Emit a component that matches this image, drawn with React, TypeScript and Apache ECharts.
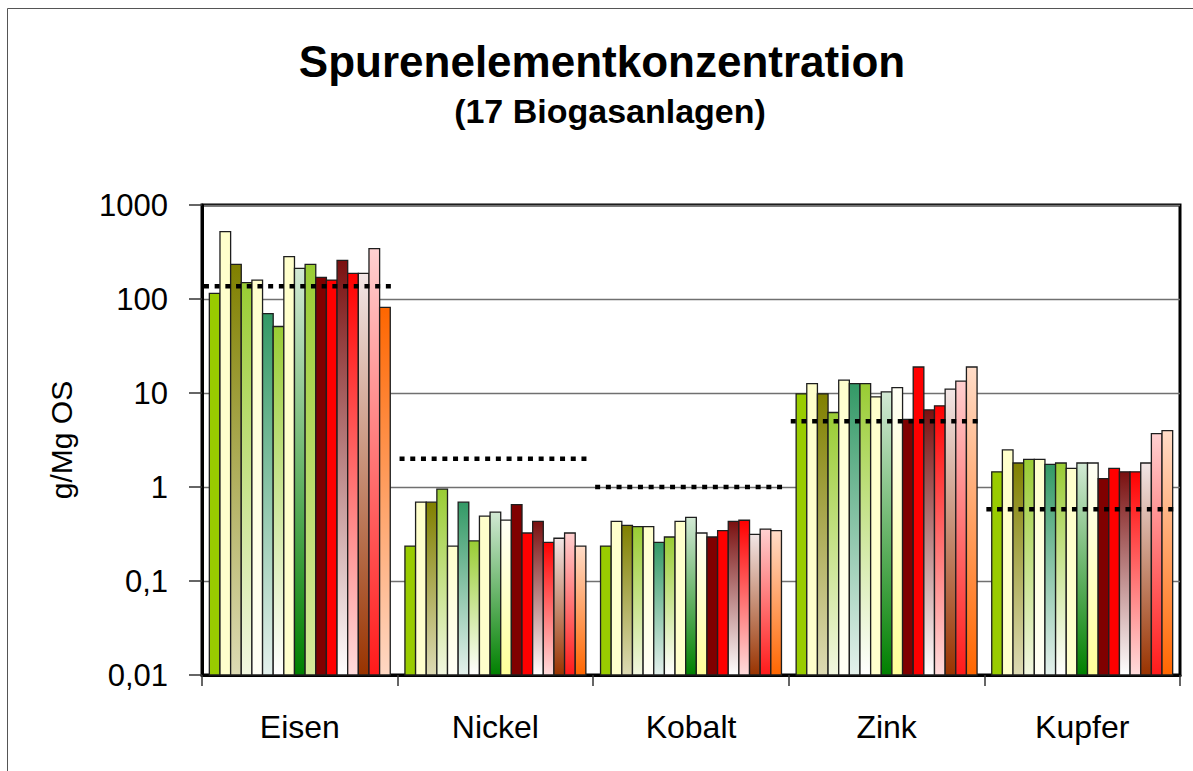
import React, { useEffect, useRef } from "react";
import * as echarts from "echarts";

const categories = ["Eisen", "Nickel", "Kobalt", "Zink", "Kupfer"];

// 17 Biogasanlagen, values per element (Eisen, Nickel, Kobalt, Zink, Kupfer)
const plantValues: number[][] = [
  [115, 0.235, 0.235, 9.8, 1.45],
  [520, 0.69, 0.43, 12.6, 2.48],
  [234, 0.69, 0.39, 9.8, 1.8],
  [149, 0.95, 0.378, 6.2, 1.97],
  [159, 0.235, 0.378, 13.7, 1.97],
  [70, 0.69, 0.258, 12.6, 1.74],
  [51, 0.267, 0.294, 12.6, 1.8],
  [282, 0.49, 0.43, 9.1, 1.58],
  [212, 0.54, 0.476, 10.3, 1.8],
  [234, 0.445, 0.324, 11.4, 1.8],
  [170, 0.65, 0.294, 5.25, 1.23],
  [159, 0.324, 0.343, 18.9, 1.58],
  [257, 0.43, 0.43, 6.6, 1.45],
  [187, 0.258, 0.443, 7.3, 1.45],
  [187, 0.285, 0.314, 11.0, 1.8],
  [343, 0.324, 0.357, 13.4, 3.69],
  [81.5, 0.235, 0.343, 18.9, 3.97],
];

// Reference (dotted) levels per element
const refLevels = [137, 2, 1, 5, 0.58];

const yTickLabels = ["0,01", "0,1", "1", "10", "100", "1000"];

const Y_MIN = 0.01;
const Y_MAX = 1000;

// fill: [top colour, bottom colour]
const fills: [string, string][] = [
  ["#99CC00", "#99CC00"],
  ["#FFFFCC", "#FFFFCC"],
  ["#808000", "#DDDBB4"],
  ["#99CC33", "#F2F7E0"],
  ["#FFFFCC", "#FFFFF6"],
  ["#339966", "#E4F1EC"],
  ["#99CC33", "#FFFFFF"],
  ["#FFFFCC", "#FFFFCC"],
  ["#D2E9D4", "#008000"],
  ["#FFFFF6", "#FFFF99"],
  ["#800000", "#800000"],
  ["#FF0000", "#FF0000"],
  ["#7A1010", "#FFFFFF"],
  ["#FF0000", "#FFDCDC"],
  ["#F2E6E6", "#993300"],
  ["#FFD0D0", "#FF1A1A"],
  ["#FFDCC8", "#FF6600"],
];

// individually formatted points: [plant index, category index, top, bottom]
const pointFills: [number, number, string, string][] = [
  [9, 0, "#99CC33", "#D6EA9C"],
  [16, 0, "#FF6600", "#FFD8C4"],
];

const FONT = "Arial, 'Liberation Sans', sans-serif";
const CATEGORY_GAP = 0.075; // fraction of band left empty

function grad(top: string, bottom: string) {
  if (top === bottom) return top;
  return new echarts.graphic.LinearGradient(0, 0, 0, 1, [
    { offset: 0, color: top },
    { offset: 1, color: bottom },
  ]);
}

export default function App() {
  const ref = useRef<HTMLDivElement>(null);
  useEffect(() => {
    if (!ref.current) return;
    const chart = echarts.init(ref.current, null, { renderer: "svg" });
    const nPlants = plantValues.length;

    const barSeries = plantValues.map((vals, i) => ({
      type: "custom",
      name: "Anlage " + (i + 1),
      xAxisIndex: 0,
      yAxisIndex: 0,
      encode: { x: 0, y: 1 },
      data: vals.map((v, c) => [c, v]),
      z: 2,
      renderItem: (params: any, api: any) => {
        const c = api.value(0);
        const v = api.value(1);
        const top = api.coord([c, v]);
        const base = api.coord([c, Y_MIN]);
        const band = api.size([1, 0])[0];
        const used = band * (1 - CATEGORY_GAP);
        const w = used / nPlants;
        const x0 = top[0] - used / 2 + i * w;
        const pf = pointFills.find((p) => p[0] === i && p[1] === c);
        const f = pf ? [pf[2], pf[3]] : fills[i];
        return {
          type: "rect",
          shape: { x: x0, y: top[1], width: w, height: base[1] - top[1] },
          style: {
            fill: grad(f[0], f[1]),
            stroke: "#1e1e1e",
            lineWidth: 1.3,
          },
        };
      },
    }));

    const lineSeries = refLevels.map((lv, c) => ({
      type: "line",
      name: "Ref " + categories[c],
      xAxisIndex: 1,
      yAxisIndex: 0,
      data: [
        [c + 0.01, lv],
        [c + 0.985, lv],
      ],
      showSymbol: false,
      symbol: "none",
      lineStyle: { color: "#000", width: 4.5, type: [5, 5.7], cap: "butt" },
      z: 5,
      silent: true,
    }));

    chart.setOption({
      animation: false,
      backgroundColor: "#fff",
      graphic: [
        {
          type: "rect",
          shape: { x: 7.5, y: 8.5, width: 1300, height: 900 },
          style: { fill: "none", stroke: "#555", lineWidth: 1 },
          silent: true,
        },
        {
          type: "text",
          x: 602,
          y: 61,
          style: {
            text: "Spurenelementkonzentration",
            font: "bold 44px " + FONT,
            fill: "#000",
            textAlign: "center",
            textVerticalAlign: "middle",
          },
        },
        {
          type: "text",
          x: 610,
          y: 111,
          style: {
            text: "(17 Biogasanlagen)",
            font: "bold 34px " + FONT,
            fill: "#000",
            textAlign: "center",
            textVerticalAlign: "middle",
          },
        },
      ],
      grid: {
        left: 202,
        right: 13,
        top: 205,
        bottom: 96,
        show: true,
        borderColor: "#000",
        borderWidth: 3,
        backgroundColor: "transparent",
        containLabel: false,
      },
      xAxis: [
        {
          type: "category",
          data: categories,
          axisLine: { lineStyle: { color: "#000", width: 3 } },
          axisTick: {
            show: true,
            alignWithLabel: false,
            length: 11,
            lineStyle: { color: "#333", width: 1.5 },
          },
          axisLabel: {
            fontFamily: FONT,
            fontSize: 32,
            color: "#000",
            margin: 36,
          },
          splitLine: { show: false },
        },
        {
          type: "value",
          min: 0,
          max: 5,
          show: false,
        },
      ],
      yAxis: {
        type: "log",
        logBase: 10,
        min: Y_MIN,
        max: Y_MAX,
        name: "g/Mg OS",
        nameLocation: "middle",
        nameRotate: 90,
        nameGap: 126,
        nameTextStyle: { fontFamily: FONT, fontSize: 30, color: "#000" },
        axisLine: { show: true, lineStyle: { color: "#000", width: 3 } },
        axisTick: {
          show: true,
          inside: false,
          length: 13,
          lineStyle: { color: "#333", width: 1.5 },
        },
        minorTick: { show: false },
        axisLabel: {
          fontFamily: FONT,
          fontSize: 31,
          color: "#000",
          margin: 34,
          formatter: (v: number) => {
            const idx = Math.round(Math.log10(v)) + 2;
            return yTickLabels[idx] ?? String(v).replace(".", ",");
          },
        },
        splitLine: { show: true, lineStyle: { color: "#707070", width: 1.3 } },
      },
      series: [...barSeries, ...lineSeries],
    });
    return () => chart.dispose();
  }, []);
  return (
    <div
      ref={ref}
      style={{ position: "fixed", left: 0, top: 0, width: 1193, height: 771 }}
    />
  );
}
